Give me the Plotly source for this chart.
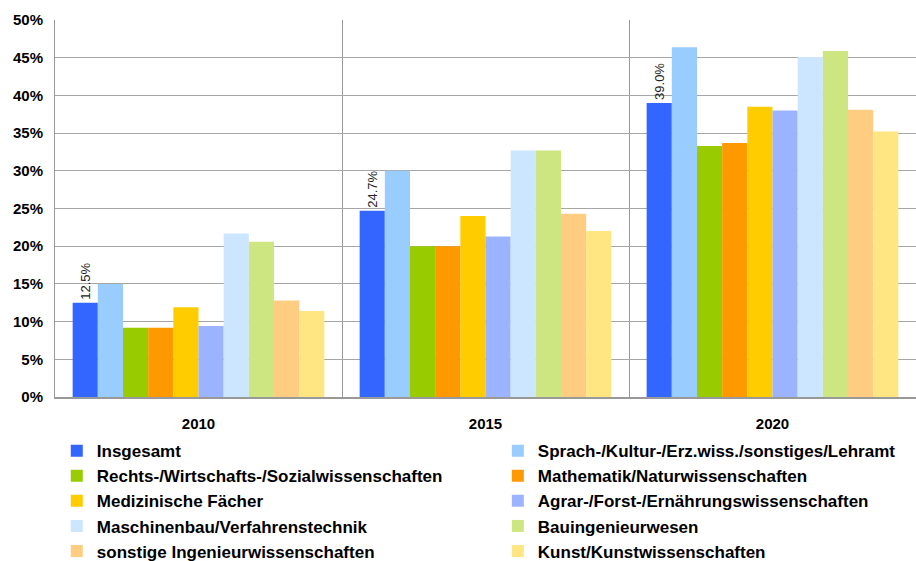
import plotly.graph_objects as go

# Share of graduates per subject group, by year
years = ["2010", "2015", "2020"]

insgesamt = [12.5, 24.7, 39.0]
sprach_kultur = [15.0, 30.0, 46.4]
rechts_wirtschaft = [9.2, 20.0, 33.3]
mathe_natur = [9.2, 20.0, 33.7]
medizin = [11.9, 24.0, 38.5]
agrar_forst = [9.4, 21.3, 38.0]
maschinenbau = [21.7, 32.7, 45.1]
bauingenieur = [20.6, 32.7, 45.9]
sonstige_ing = [12.8, 24.3, 38.1]
kunst = [11.4, 22.0, 35.2]

y_ticks = [0, 5, 10, 15, 20, 25, 30, 35, 40, 45, 50]
y_tick_labels = [f"{t}%" for t in y_ticks]

series = [
    ("Insgesamt", insgesamt, "#3366FF", False),
    ("Sprach-/Kultur-/Erz.wiss./sonstiges/Lehramt", sprach_kultur, "#99CCFF", False),
    ("Rechts-/Wirtschafts-/Sozialwissenschaften", rechts_wirtschaft, "#99CC00", False),
    ("Mathematik/Naturwissenschaften", mathe_natur, "#FF9900", False),
    ("Medizinische Fächer", medizin, "#FFCC00", False),
    ("Agrar-/Forst-/Ernährungswissenschaften", agrar_forst, "#3366FF", True),
    ("Maschinenbau/Verfahrenstechnik", maschinenbau, "#99CCFF", True),
    ("Bauingenieurwesen", bauingenieur, "#99CC00", True),
    ("sonstige Ingenieurwissenschaften", sonstige_ing, "#FF9900", True),
    ("Kunst/Kunstwissenschaften", kunst, "#FFCC00", True),
]

FONT = "Liberation Sans, Arial, sans-serif"

fig = go.Figure()
for i, (name, values, color, dotted) in enumerate(series):
    marker = dict(color=color, line=dict(width=0))
    if dotted:
        marker = dict(
            color="white",
            line=dict(width=0),
            pattern=dict(shape=".", fgcolor=color, bgcolor="white",
                         size=2, solidity=0.9, fillmode="overlay"),
        )
    kwargs = {}
    if name == "Insgesamt":
        kwargs = dict(
            text=[f"{v:.1f}%" for v in values],
            textposition="outside",
            textangle=-90,
            constraintext="none",
            textfont=dict(family=FONT, size=13, color="#222222"),
            cliponaxis=False,
        )
    # two-column legend: left column in "legend", right column in "legend2"
    fig.add_trace(go.Bar(
        name=name, x=years, y=values, marker=marker,
        legend="legend" if i % 2 == 0 else "legend2",
        **kwargs,
    ))

# each column is a horizontal legend whose wide entries wrap one per row
legend_common = dict(
    orientation="h",
    xref="container",
    yref="container",
    xanchor="left",
    y=0.228,
    yanchor="top",
    entrywidth=441,
    entrywidthmode="pixels",
    font=dict(family=FONT, size=17, color="black", weight="bold"),
    itemwidth=30,
    traceorder="normal",
    bgcolor="rgba(0,0,0,0)",
)

fig.update_layout(
    width=916,
    height=561,
    margin=dict(l=55, r=0, t=20, b=164),
    paper_bgcolor="white",
    plot_bgcolor="white",
    barmode="group",
    bargap=0.123,
    bargroupgap=0,
    font=dict(family=FONT, color="black"),
    legend=dict(x=0.062, **legend_common),
    legend2=dict(x=0.5435, **legend_common),
)

fig.update_xaxes(
    type="category",
    tickson="boundaries",
    showgrid=True,
    gridcolor="#999999",
    gridwidth=1,
    showline=True,
    linecolor="#999999",
    linewidth=2,
    ticks="",
    ticklabelstandoff=12,
    tickfont=dict(family=FONT, size=15, color="black", weight="bold"),
)

fig.update_yaxes(
    range=[0, 50],
    tickvals=y_ticks,
    ticktext=y_tick_labels,
    showgrid=True,
    gridcolor="#A6A6A6",
    gridwidth=1,
    showline=True,
    linecolor="#999999",
    linewidth=1,
    zeroline=False,
    ticks="",
    ticklabelstandoff=8,
    tickfont=dict(family=FONT, size=15, color="black", weight="bold"),
)

fig.write_html("out.html")
